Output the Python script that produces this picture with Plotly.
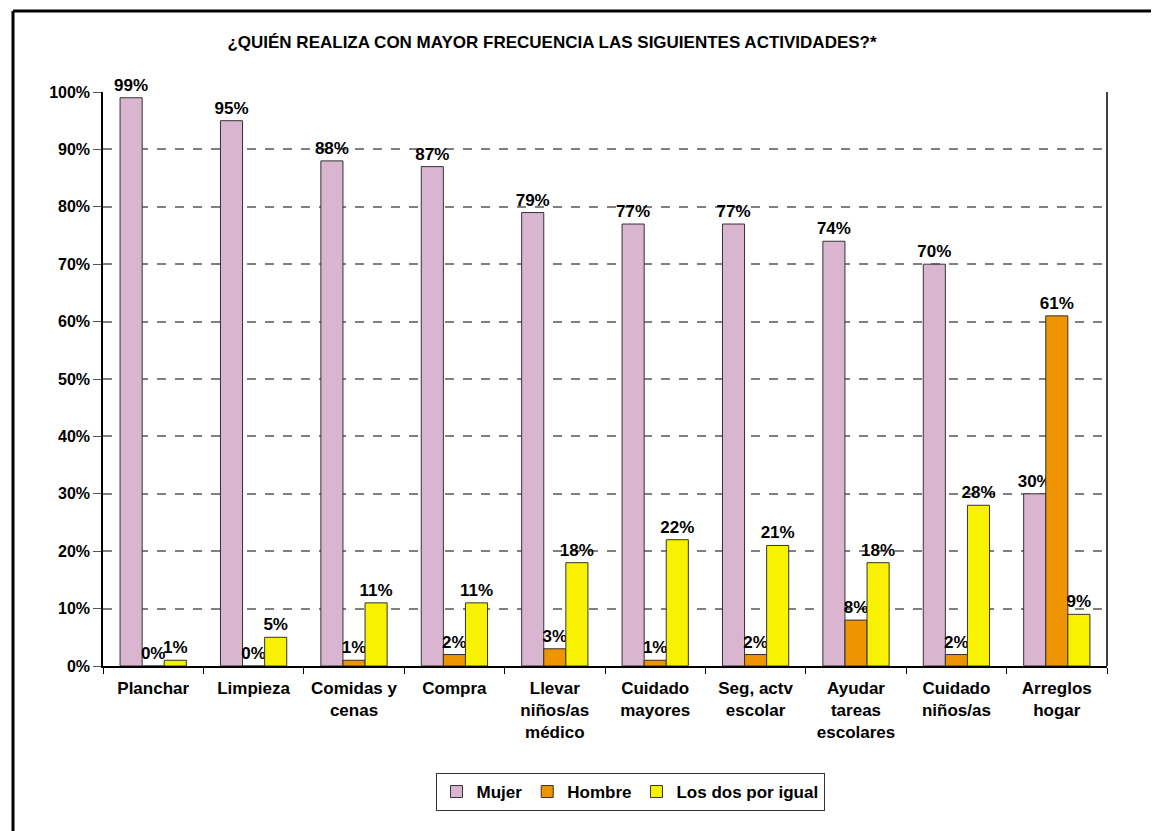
import plotly.graph_objects as go

categories = ["Planchar", "Limpieza", "Comidas y<br>cenas", "Compra", "Llevar<br>niños/as<br>médico",
              "Cuidado<br>mayores", "Seg, actv<br>escolar", "Ayudar<br>tareas<br>escolares",
              "Cuidado<br>niños/as", "Arreglos<br>hogar"]
mujer = [99, 95, 88, 87, 79, 77, 77, 74, 70, 30]
hombre = [0, 0, 1, 2, 3, 1, 2, 8, 2, 61]
ambos = [1, 5, 11, 11, 18, 22, 21, 18, 28, 9]
ytick_vals = [0, 10, 20, 30, 40, 50, 60, 70, 80, 90, 100]
ytick_text = [f"{v}%" for v in ytick_vals]

FONT = "Liberation Sans, Arial, sans-serif"
series = [("Mujer", mujer, "#D9B5D0"), ("Hombre", hombre, "#EE9400"), ("Los dos por igual", ambos, "#F8F200")]

fig = go.Figure()
for name, vals, col in series:
    fig.add_trace(go.Bar(
        x=categories, y=vals, name=name,
        marker=dict(color=col, line=dict(color="#333333", width=1)),
        text=[f"{v}%" for v in vals], textposition="outside",
        constraintext="none",
        textfont=dict(family=FONT, size=17, color="black", weight="bold"),
        cliponaxis=False,
    ))

fig.update_layout(
    width=1159, height=831,
    paper_bgcolor="white", plot_bgcolor="white",
    barmode="group", bargap=0.34, bargroupgap=0,
    margin=dict(l=95, r=60, t=84, b=173, autoexpand=False),
    font=dict(family=FONT, size=16, color="black", weight="bold"),
    title=dict(text="¿QUIÉN REALIZA CON MAYOR FRECUENCIA LAS SIGUIENTES ACTIVIDADES?*",
               x=544/1159, xanchor="center", y=1-34/831, yanchor="middle",
               font=dict(family=FONT, size=17, color="black", weight="bold")),
    showlegend=True,
    legend=dict(orientation="h", x=(630-103)/1004, xref="paper", xanchor="center",
                y=-0.2195, yanchor="middle",
                bordercolor="#333333", borderwidth=1,
                font=dict(family=FONT, size=17, color="black", weight="bold"),
                itemwidth=30, traceorder="normal"),
)
fig.update_xaxes(
    showline=True, linecolor="black", linewidth=1.5, mirror=False,
    ticks="outside", tickson="boundaries", ticklen=6, tickcolor="black",
    tickfont=dict(family=FONT, size=17, color="black", weight="bold"),
    ticklabelstandoff=6,
    showgrid=False,
)
fig.update_yaxes(
    range=[0, 100], tickvals=ytick_vals, ticktext=ytick_text,
    showline=True, linecolor="black", linewidth=1.5,
    ticks="outside", ticklen=8, tickcolor="#555555",
    tickfont=dict(family=FONT, size=16, color="black", weight="bold"),
    showgrid=True, gridcolor="#808080", gridwidth=2, griddash="dash",
    zeroline=False,
)
# right frame line of plot area
fig.add_shape(type="line", xref="paper", yref="paper", x0=1, x1=1, y0=0, y1=1,
              line=dict(color="black", width=1.5))
# bold outer border (left and top visible)
top = 1 + 81/574
left = -90/1004
fig.add_shape(type="line", xref="paper", yref="paper",
              x0=left, x1=left, y0=-180/574, y1=top,
              line=dict(color="black", width=3))
fig.add_shape(type="line", xref="paper", yref="paper",
              x0=left, x1=1.07, y0=top, y1=top,
              line=dict(color="black", width=3))

fig.write_html("out.html")
